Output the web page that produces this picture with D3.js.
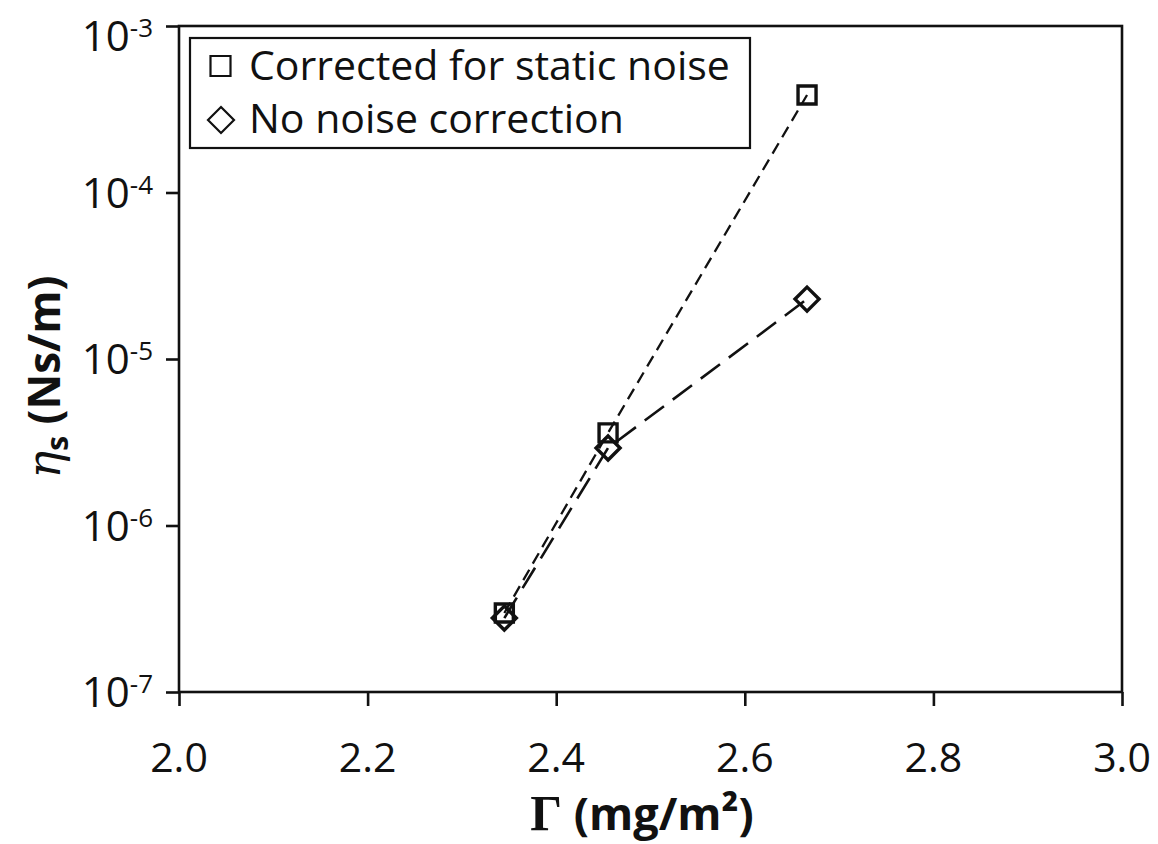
<!DOCTYPE html>
<html>
<head>
<meta charset="utf-8">
<script src="https://cdn.jsdelivr.net/npm/d3@7"></script>
<style>
  html, body { margin: 0; padding: 0; background: #fff; }
  svg { display: block; }
</style>
</head>
<body>
<svg id="chart" width="1158" height="844"></svg>
<script>
// ---- data ----
const gamma = [2.345, 2.455, 2.666];
const etaCorrected = [2.98e-7, 3.6e-6, 3.85e-4];
const etaNoCorrection = [2.78e-7, 2.92e-6, 2.29e-5];
const xTicks = [2.0, 2.2, 2.4, 2.6, 2.8, 3.0];
const yTickExps = [-7, -6, -5, -4, -3];
const legendLabels = ["Corrected for static noise", "No noise correction"];

// ---- layout ----
const L = 179, R = 1122, T = 26, B = 692;
const svg = d3.select("#chart");
const x = d3.scaleLinear().domain([2, 3]).range([L, R]);
const y = d3.scaleLog().domain([1e-7, 1e-3]).range([B, T]);
const font = "'Open Sans', sans-serif";

// frame
svg.append("rect").attr("x", L).attr("y", T).attr("width", R - L).attr("height", B - T)
  .attr("fill", "none").attr("stroke", "#111").attr("stroke-width", 2.6);

// y axis ticks
const yAxis = d3.axisLeft(y).tickValues(yTickExps.map(e => Math.pow(10, e)))
  .tickSize(13).tickFormat("");
const gy = svg.append("g").attr("transform", `translate(${L},0)`).call(yAxis);
gy.select(".domain").remove();
gy.selectAll(".tick line").attr("stroke", "#111").attr("stroke-width", 2.6);

yTickExps.forEach(e => {
  const yy = Math.max(y(Math.pow(10, e)), T + 10);
  const t = svg.append("text").attr("x", 153).attr("y", yy + 15)
    .attr("text-anchor", "end").attr("font-family", font).attr("font-size", 42).attr("fill", "#111");
  t.append("tspan").text("10");
  t.append("tspan").attr("font-size", 26).attr("dy", -14).text(String(e));
});

// x axis ticks
const xAxis = d3.axisBottom(x).tickValues(xTicks).tickSize(14).tickFormat("");
const gx = svg.append("g").attr("transform", `translate(0,${B})`).call(xAxis);
gx.select(".domain").remove();
gx.selectAll(".tick line").attr("stroke", "#111").attr("stroke-width", 2.6);

xTicks.forEach(v => {
  svg.append("text").attr("x", x(v)).attr("y", 772).attr("text-anchor", "middle")
    .attr("font-family", font).attr("font-size", 41).attr("fill", "#111")
    .text(v.toFixed(1));
});

// axis titles
const xt = svg.append("text").attr("x", 642).attr("y", 830).attr("text-anchor", "middle")
  .attr("font-family", font).attr("font-size", 45).attr("font-weight", "bold").attr("fill", "#111");
xt.append("tspan").attr("font-family", "'Liberation Serif', serif").attr("font-size", 50).text("Γ");
xt.append("tspan").text(" (mg/m²)");

const yt = svg.append("text").attr("transform", "translate(60,377) rotate(-90)")
  .attr("text-anchor", "middle").attr("font-family", font).attr("font-size", 44)
  .attr("font-weight", "bold").attr("fill", "#111");
yt.append("tspan").attr("font-family", "'DejaVu Serif', serif").attr("font-style", "italic")
  .attr("font-weight", "normal").attr("font-size", 46).text("η");
yt.append("tspan").attr("font-size", 30).attr("dy", 8).text("s");
yt.append("tspan").attr("dy", -8).text(" (Ns/m)");

// lines
const line = d3.line().x(d => x(d[0])).y(d => y(d[1]));
const corr = gamma.map((g, i) => [g, etaCorrected[i]]);
const nocorr = gamma.map((g, i) => [g, etaNoCorrection[i]]);

svg.append("path").datum(nocorr).attr("d", line).attr("fill", "none")
  .attr("stroke", "#111").attr("stroke-width", 2.6).attr("stroke-dasharray", "24,11");
svg.append("path").datum(corr).attr("d", line).attr("fill", "none")
  .attr("stroke", "#111").attr("stroke-width", 2.3).attr("stroke-dasharray", "12,7");

// markers
const sq = d3.symbol().type(d3.symbolSquare).size(18 * 18);
const diamondPath = r => `M0,${-r}L${r},0L0,${r}L${-r},0Z`;

svg.selectAll(".sq").data(corr).enter().append("path")
  .attr("transform", d => `translate(${x(d[0])},${y(d[1])})`)
  .attr("d", sq()).attr("fill", "none").attr("stroke", "#111").attr("stroke-width", 3.4);
svg.selectAll(".dm").data(nocorr).enter().append("path")
  .attr("transform", d => `translate(${x(d[0])},${y(d[1])})`)
  .attr("d", diamondPath(12)).attr("fill", "none").attr("stroke", "#111").attr("stroke-width", 3.4);

// legend
svg.append("rect").attr("x", 190).attr("y", 38).attr("width", 560).attr("height", 110)
  .attr("fill", "#fff").attr("stroke", "#111").attr("stroke-width", 2.2);
svg.append("path").attr("transform", "translate(220.5,66)")
  .attr("d", d3.symbol().type(d3.symbolSquare).size(20 * 20)()).attr("fill", "none")
  .attr("stroke", "#111").attr("stroke-width", 2.2);
svg.append("path").attr("transform", "translate(221,120)")
  .attr("d", diamondPath(13)).attr("fill", "none").attr("stroke", "#111").attr("stroke-width", 2.2);
legendLabels.forEach((lab, i) => {
  svg.append("text").attr("x", 249).attr("y", i === 0 ? 80 : 133)
    .attr("font-family", font).attr("font-size", 41).attr("fill", "#111").text(lab);
});
</script>
</body>
</html>
